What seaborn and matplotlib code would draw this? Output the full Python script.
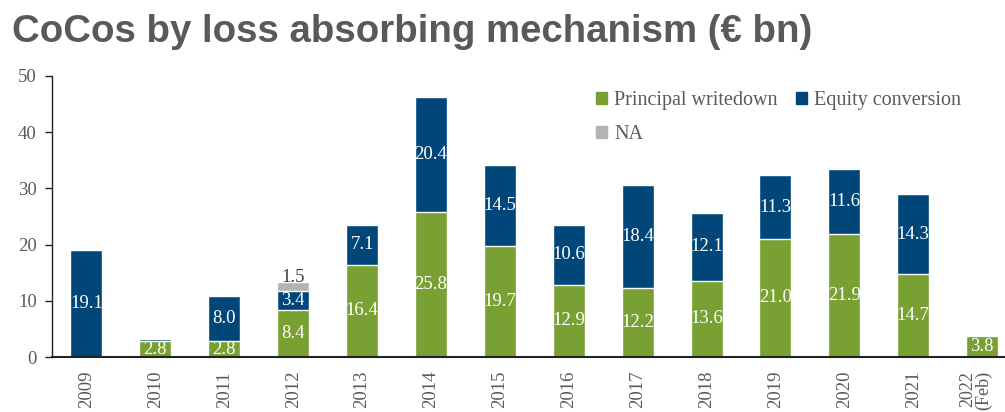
import matplotlib
matplotlib.use("Agg")
import matplotlib.pyplot as plt
import matplotlib.transforms as mtransforms
import seaborn as sns
import numpy as np
import pandas as pd
from matplotlib.patches import Patch

years = ["2009", "2010", "2011", "2012", "2013", "2014", "2015", "2016",
         "2017", "2018", "2019", "2020", "2021", "2022\n(Feb)"]
principal = [0.0, 2.8, 2.8, 8.4, 16.4, 25.8, 19.7, 12.9, 12.2, 13.6, 21.0, 21.9, 14.7, 3.8]
equity = [19.1, 0.4, 8.0, 3.4, 7.1, 20.4, 14.5, 10.6, 18.4, 12.1, 11.3, 11.6, 14.3, 0.0]
na = [0, 0, 0, 1.5, 0, 0, 0, 0, 0, 0, 0, 0, 0, 0]
show_equity_label = [True, False, True, True, True, True, True, True, True, True, True, True, True, False]

GREEN = "#78A032"
BLUE = "#004678"
GRAY = "#B4B4B4"
TXT = "#5a5a5a"
SERIF = ["Liberation Serif", "DejaVu Serif"]

sns.set_theme(style="white")
plt.rcParams["font.family"] = ["Liberation Sans", "DejaVu Sans"]

p = np.array(principal)
e = np.array(equity)
n = np.array(na)
df = pd.DataFrame({
    "year": years,
    "pw": p,
    "pe": p + e,
    "all": p + e + n,
})

fig = plt.figure(figsize=(10.05, 4.12), dpi=100)
ax = fig.add_axes([52 / 1005, 1 - 357 / 412, 1 - 52 / 1005, (357 - 76) / 412])

W = 0.465
sns.barplot(data=df, x="year", y="all", color=GRAY, width=W, ax=ax, saturation=1, order=years)
sns.barplot(data=df, x="year", y="pe", color=BLUE, width=W, ax=ax, saturation=1, order=years)
sns.barplot(data=df, x="year", y="pw", color=GREEN, width=W, ax=ax, saturation=1, order=years)

for i in range(len(years)):
    if p[i] > 0:
        ax.text(i, p[i] / 2, f"{p[i]:.1f}", ha="center", va="center",
                color="white", fontsize=13.5, family=SERIF)
    if e[i] > 0 and show_equity_label[i]:
        ax.text(i, p[i] + e[i] / 2, f"{e[i]:.1f}", ha="center", va="center",
                color="white", fontsize=13.5, family=SERIF)
    if n[i] > 0:
        ax.text(i, p[i] + e[i] + n[i] / 2, f"{n[i]:.1f}", ha="center", va="bottom",
                color="#404040", fontsize=13.5, family=SERIF)

ax.set_xlim(-0.5, (1005 - 52) / 68.9 - 0.5)
ax.set_ylim(0, 50)
ax.set_yticks([0, 10, 20, 30, 40, 50])
ax.set_xlabel("")
ax.set_ylabel("")
for s in ["top", "right"]:
    ax.spines[s].set_visible(False)
ax.spines["left"].set_color("#222222")
ax.spines["bottom"].set_color("#222222")
ax.spines["left"].set_linewidth(1.0)
ax.spines["bottom"].set_linewidth(1.5)
ax.tick_params(axis="y", left=True, length=5, width=1, color="#222222",
               labelsize=13.5, labelcolor=TXT, pad=6)
ax.tick_params(axis="x", bottom=False, labelsize=13.5, labelcolor=TXT, pad=4)
for lab in ax.get_yticklabels():
    lab.set_family(SERIF)
xlabs = ax.get_xticklabels()
for lab in xlabs:
    lab.set_family(SERIF)
    lab.set_rotation(90)
    lab.set_va("top")
    lab.set_ha("center")
    lab.set_linespacing(0.9)
    lab.set_multialignment("right")
last = xlabs[-1]
last.set_fontsize(13)
last.set_transform(last.get_transform() +
                   mtransforms.ScaledTranslation(-6 / 100, 0, fig.dpi_scale_trans))

handles = [Patch(color=GREEN, label="Principal writedown"),
           Patch(color=GRAY, label="NA"),
           Patch(color=BLUE, label="Equity conversion")]
leg = ax.legend(handles=handles, ncol=2, loc="upper left",
                bbox_to_anchor=(536 / 953, 0.975), frameon=False,
                prop={"family": SERIF, "size": 14.5}, handlelength=0.55, handleheight=0.55,
                handletextpad=0.35, columnspacing=0.9, labelspacing=0.75, borderaxespad=0)
for t in leg.get_texts():
    t.set_color(TXT)

fig.text(12 / 1005, 1 - 32 / 412, "CoCos by loss absorbing mechanism (\u20ac bn)",
         fontsize=27.6, fontweight="bold", color="#595959", va="center", ha="left",
         family=["Liberation Sans", "DejaVu Sans"])

fig.savefig("out.png", dpi=100)
